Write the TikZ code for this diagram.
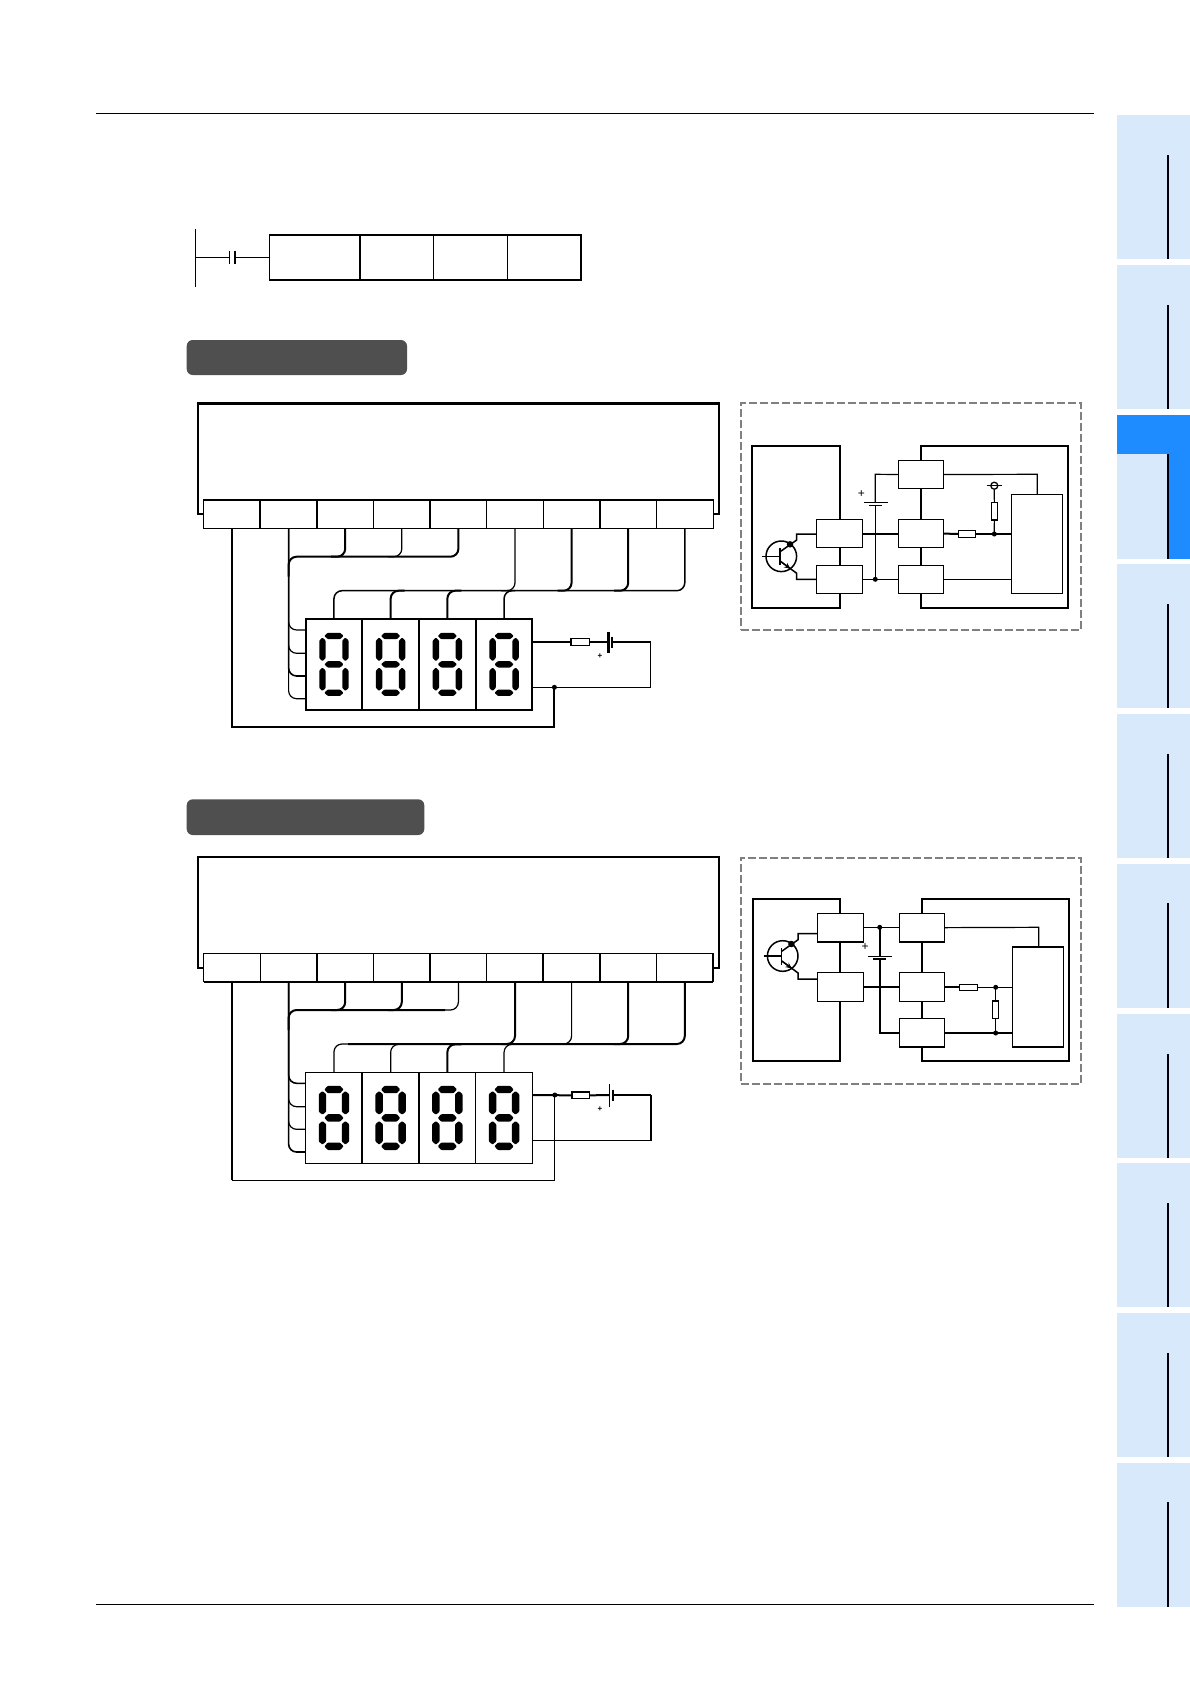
\documentclass[tikz,border=0pt]{standalone}
\usepackage{fontspec}
\setmainfont{Liberation Sans}
\usetikzlibrary{arrows.meta}
\definecolor{tabl}{HTML}{D7E9FB}
\definecolor{tabd}{HTML}{1E8BFF}
\definecolor{pill}{HTML}{4F4F4F}
\definecolor{dashg}{HTML}{808080}
\tikzset{
  bxs/.style={inner sep=0pt,outer sep=0pt},
  cell/.style={draw,fill=white,line width=1.2pt},
  tbox/.style={draw,fill=white,line width=1.4pt},
  wn/.style={line width=1.2pt},
  wb/.style={line width=2pt},
  rw/.style={rounded corners=8pt},
  segf/.style={fill=black,rounded corners=0.8pt},
  dotn/.style={circle,fill=black,inner sep=0pt,outer sep=0pt,minimum size=5pt},
  frame/.style={draw=dashg,line width=2pt,dash pattern=on 8pt off 3pt},
  house/.style={draw,line width=2.2pt},
  plus/.style={inner sep=0pt,outer sep=0pt,font=\fontsize{8}{8}\selectfont\bfseries},
  plusb/.style={inner sep=0pt,outer sep=0pt,font=\fontsize{12}{12}\selectfont},
}
% [options]{name}{x1}{y1}{x2}{y2}
\newcommand{\bx}[6][]{%
  \pgfmathsetmacro\bw{#5-#3}\pgfmathsetmacro\bh{#6-#4}%
  \pgfmathsetmacro\bcx{(#3+#5)/2}\pgfmathsetmacro\bcy{(#4+#6)/2}%
  \node[bxs,minimum width=\bw pt,minimum height=\bh pt,#1] (#2) at (\bcx,\bcy) {};}
% terminal strip {prefix}{ytop}{ybot}
\newcommand{\Strip}[3]{%
  \foreach \i in {1,...,9}{%
    \pgfmathsetmacro\xa{203.7+56.6*(\i-1)}\pgfmathsetmacro\xb{\xa+56.6}%
    \bx[cell]{#1\i}{\xa}{#2}{\xb}{#3}}}
% digit boxes {prefix}{ytop}{ybot}
\newcommand{\Digits}[3]{%
  \foreach \i in {1,...,4}{%
    \pgfmathsetmacro\xa{305.6+56.7*(\i-1)}\pgfmathsetmacro\xb{\xa+56.7}%
    \bx[cell]{#1\i}{\xa}{#2}{\xb}{#3}}}
% seven segments {node}{half thickness}
\newcommand{\Seven}[2]{%
  \foreach \yy in {-28.4,0,28.4}{%
    \fill[segf,shift={(#1.center)},yshift=-\yy pt]
      (-9.6,0) -- (-6.2,-#2) -- (6.2,-#2) -- (9.6,0) -- (6.2,#2) -- (-6.2,#2) -- cycle;}
  \foreach \xx in {-11.5,11.5}{\foreach \ya/\yb in {-26.8/-3.2,3.2/26.6}{%
    \pgfmathsetmacro\yc{\ya+3}\pgfmathsetmacro\yd{\yb-3}%
    \fill[segf,shift={(#1.center)},xshift=\xx pt]
      (0,\ya) -- (#2,\yc) -- (#2,\yd) -- (0,\yb) -- (-#2,\yd) -- (-#2,\yc) -- cycle;}}}
% transistor {prefix}{cx}{cy}{L1 node}{L2 node}
\newcommand{\Trans}[5]{%
  \begin{scope}[shift={(#2,#3)}]
    \node[circle,draw,line width=1.5pt,inner sep=0pt,minimum size=30.6pt] (#1c) at (0,0) {};
    \coordinate (#1b) at (-19,0);
    \coordinate (#1bb) at (-1.3,0);
    \coordinate (#1ct) at (15.4,-22.3);
    \coordinate (#1et) at (15.4,23);
    \draw[line width=1.5pt] (#1b) -- (#1bb);
    \draw[line width=1.8pt] (-1.3,-8) -- (-1.3,8.7);
    \draw[line width=1.5pt] (-1.3,-4.5) -- (15.4,-16.3) -- (#1ct) -- (#4.west|-#1ct) ;
    \draw[line width=1.5pt] (-1.3,4.7) -- (15.4,17) -- (#1et) -- (#5.west|-#1et);
    \draw[line width=1.2pt,-{Stealth[length=6pt,width=5.5pt]}] (0,5.6) -- (9,12.4);
    \node[dotn,minimum size=6.5pt] (#1d) at (8.7,-12) {};
  \end{scope}}
\begin{document}
\begin{tikzpicture}[x=1pt,y=-1pt]
\useasboundingbox (0,0) rectangle (1190,1684);
\fill[white] (0,0) rectangle (1190,1684);

% page rules
\draw[line width=1.1pt] (96,113.5) -- (1094,113.5);
\draw[line width=1pt] (96,1604) -- (1094,1604);

% side tabs
\foreach \t/\l in {115/155,265/305,415/454,564/604,714/754,864/903,1014/1054,1163/1203,1313/1353,1463/1502}{%
  \fill[tabl] (1116.7,\t) rectangle (1190,\t+144);
  \ifnum\t=415
    \fill[tabd] (1116.7,\t) rectangle (1190,\l);
    \fill[tabd] (1168,\l) rectangle (1190,\t+144);
  \fi
  \draw[line width=1.8pt,black!95!blue] (1168,\l) -- (1168,\t+144);
}

% ladder rung
\coordinate (lbt) at (195.3,229);
\coordinate (lbb) at (195.3,286.7);
\coordinate (lbm) at (195.3,257.5);
\draw[line width=1.1pt] (lbt) -- (lbb);
\bx[draw,line width=1.3pt,fill=white]{ins1}{269.3}{235}{360}{280}
\bx[draw,line width=1.3pt,fill=white]{ins2}{360}{235}{433.3}{280}
\bx[draw,line width=1.3pt,fill=white]{ins3}{433.3}{235}{507.3}{280}
\bx[draw,line width=1.3pt,fill=white]{ins4}{507.3}{235}{581.3}{280}
\draw[line width=2pt] (ins1.north west) -- (ins4.north east) -- (ins4.south east) -- (ins1.south west);
\draw[line width=2.2pt] (ins1.north east) -- (ins1.south east);
\coordinate (cta) at (229.3,257.5);
\coordinate (ctb) at (235,257.5);
\draw[line width=1.2pt] (lbm) -- (cta);
\draw[line width=1.2pt] (ctb) -- (ins1.west);
\draw[line width=1.2pt] (229.3,251) -- (229.3,264);
\draw[line width=2.2pt] (235,251) -- (235,264);

% section bars
\bx[fill=pill,rounded corners=6pt]{barA}{186.7}{340}{407}{375}
\bx[fill=pill,rounded corners=6pt]{barB}{186.7}{799.3}{424.3}{835}

%%%%%%%%%% BLOCK 1 %%%%%%%%%%
\bx[draw,line width=2pt]{plcA}{198.1}{403.3}{718.5}{514}
\draw[line width=2.6pt] (plcA.north west) -- (plcA.north east);
\Strip{a}{500}{528.4}
\draw[wb] (a1.north west) -- (a9.north east);
\draw[wb] (a1.north east) -- (a1.south east);
\draw[wb] (a4.north east) -- (a4.south east);
\draw[line width=1.5pt] (a6.north east) -- (a6.south east);
\Digits{da}{618.7}{710}
\draw[wb] (da1.north west) -- (da4.north east) -- (da4.south east) -- (da1.south west) -- cycle;
\draw[wb] (da1.north east) -- (da1.south east);
\draw[wb] (da3.north east) -- (da3.south east);
\foreach \n in {da1,da2,da3,da4}{\Seven{\n}{3.2}}

% common wire
\coordinate (aGnd) at (a1.south|-0,726.7);
\node[dotn] (aDot) at (554.4,687.3) {};
\draw[wb] (a1.south) -- (aGnd) -- (aDot.center|-aGnd) -- (aDot.center);
% group 1
\coordinate (ab) at (288.6,556.7);
\draw[wb,rw] (a5.south) |- (ab) -- ++(0,20);
\draw[wb,rw] (a3.south) |- ++(-14,28.3);
\draw[wn,rw] (a4.south) |- ++(-14,28.3);
\coordinate (ap1) at (305.6,630);
\coordinate (ap2) at (305.6,653.3);
\coordinate (ap3) at (305.6,676);
\coordinate (ap4) at (305.6,698.7);
\draw[wn,rw] (a2.south) |- (ap4);
\draw[wn,rw] (a2.south) |- (ap1);
\draw[wn,rw] (a2.south) |- (ap2);
\draw[line width=1.6pt,rw] (a2.south) |- (ap3);
% group 2
\coordinate (au) at (684.8,590.7);
\draw[line width=1.5pt,rw] (da1.north) |- (au) -- (a9.south);
\draw[wb,rw] (da2.north) |- ++(14,-28);
\draw[wb,rw] (da3.north) |- ++(14,-28);
\draw[line width=1.5pt,rw] (da4.north) |- ++(11,-28);
\draw[wn,rw] (a6.south) |- ++(-14,62.3);
\draw[wb,rw] (a7.south) |- ++(-14,62.3);
\draw[wb,rw] (a8.south) |- ++(-14,62.3);
% supply
\coordinate (apu) at (532.2,642);
\coordinate (apc) at (650.7,642);
\coordinate (apd) at (650.7,687.3);
\coordinate (apl) at (532.2,687.3);
\bx[draw,line width=1.5pt,fill=white]{afuse}{571}{638.7}{589.6}{645.3}
\coordinate (ab1) at (608.5,642);
\coordinate (ab2) at (611.9,642);
\draw[wb] (apu) -- (afuse.west);
\draw[wb] (afuse.east) -- (ab1);
\draw[wb] (ab2) -- (apc);
\draw[wn] (apc) -- (apd) -- (apl);
\draw[line width=2.2pt] (608.5,631.7) -- (608.5,652.7);
\draw[line width=1.4pt] (611.9,636.5) -- (611.9,647.5);
\node[plus] (aplus) at (600,656) {+};

%%%%%%%%%% BLOCK 2 %%%%%%%%%%
\bx[draw,line width=2pt]{plcB}{198.1}{856.7}{719.4}{968.3}
\Strip{b}{953.3}{981.6}
\draw[wb] (b4.north east) -- (b4.south east);
\draw[wb] (b6.north east) -- (b6.south east);
\draw[wb] (b9.north east) -- (b9.south east);
\draw[wb] (b1.south west) -- (b9.south east);
\Digits{db}{1072.3}{1163.5}
\draw[wb] (db1.north east) -- (db1.south east);
\draw[wb] (db2.north east) -- (db2.south east);
\draw[line width=1.6pt] (db1.north west) -- (db4.north east) -- (db4.south east) -- (db1.south west) -- cycle;
\foreach \n in {db1,db2,db3,db4}{\Seven{\n}{3.7}}

\coordinate (bGnd) at (b1.south|-0,1180.3);
\node[dotn] (bDot) at (554.8,1095) {};
\draw[wn] (bDot.center) -- (bDot.center|-bGnd) -- (bGnd);
\draw[wb] (bGnd) -- (b1.south);
% group 1
\coordinate (bb) at (288.6,1010);
\coordinate (bbe) at (445,1010);
\draw[wb,rw] (bbe) -- (bb) -- ++(0,20);
\draw[wn,rw] (b5.south) |- ++(-14,28.4);
\draw[wb,rw] (b3.south) |- ++(-14,28.4);
\draw[wb,rw] (b4.south) |- ++(-14,28.4);
\coordinate (bp1) at (305.6,1083.3);
\coordinate (bp2) at (305.6,1106.7);
\coordinate (bp3) at (305.6,1129.3);
\coordinate (bp4) at (305.6,1152);
\draw[line width=1.6pt,rw] (b2.south) |- (bp4);
\draw[line width=1.6pt,rw] (b2.south) |- (bp1);
\draw[wn,rw] (b2.south) |- (bp2);
\draw[wn,rw] (b2.south) |- (bp3);
% group 2
\coordinate (bu) at (684.8,1044);
\coordinate (bus) at (347.7,1044);
\draw[wb,rw] (bus) -- (bu) -- (b9.south);
\draw[wn,rw] (db1.north) |- (bus);
\draw[wn,rw] (db2.north) |- ++(14,-28);
\draw[wb,rw] (db3.north) |- ++(14,-28);
\draw[wn,rw] (db4.north) |- ++(11,-28);
\draw[wb,rw] (b6.south) |- ++(-14,62.4);
\draw[wn,rw] (b7.south) |- ++(-14,62.4);
\draw[wb,rw] (b8.south) |- ++(-14,62.4);
% supply
\coordinate (bpu) at (532.6,1095);
\coordinate (bpc) at (651,1095);
\coordinate (bpd) at (651,1140.3);
\coordinate (bpl) at (532.6,1140.3);
\bx[draw,line width=1.3pt,fill=white]{bfuse}{571.9}{1092}{589.6}{1098.7}
\coordinate (bb1) at (609.3,1095);
\coordinate (bb2) at (612.6,1095);
\draw[wb] (bpu) -- (bfuse.west);
\draw[wb] (bfuse.east) -- (bb1);
\draw[wb] (bb2) -- (bpc);
\draw[wn] (bpc) -- (bpd) -- (bpl);
\draw[line width=1.3pt] (609.3,1084.3) -- (609.3,1106.7);
\draw[line width=2.2pt] (612.6,1089.5) -- (612.6,1100.5);
\node[plus] (bplus) at (600,1109.3) {+};

%%%%%%%%%% INSET 1 %%%%%%%%%%
\bx[frame]{frA}{740.7}{403.3}{1081}{630}
\bx[house]{hLa}{752}{446}{840}{608.3}
\bx[house]{hRa}{921}{446}{1068.3}{608.3}
\bx[tbox]{La1}{816.3}{519.7}{862.3}{547.7}
\bx[tbox]{La2}{816.3}{565.3}{862.3}{593.3}
\bx[tbox]{Ra0}{898.3}{460.3}{943.3}{488.7}
\bx[tbox]{Ra1}{898.3}{519.7}{943.3}{547.7}
\bx[tbox]{Ra2}{898.3}{565.3}{943.3}{593.3}
\bx[tbox,line width=1.2pt]{Ia}{1011.3}{494.3}{1062.7}{593.3}
\node[dotn] (Jaa) at (875.3,579.3) {};
\node[dotn] (Jab) at (994.3,534) {};
\draw[wb] (La1.east) -- (Ra1.west);
\draw[wn] (La2.east) -- (Ra2.west);
\draw[wn] (Ra2.east) -- (Ia.west|-Ra2.east);
\coordinate (Ca0) at (875.3,474.3);
\coordinate (Cap1) at (875.3,502.3);
\coordinate (Cap2) at (875.3,505.3);
\draw[wn] (Ra0.west) -- (Ca0) -- (Cap1);
\draw[wn] (Cap2) -- (Jaa.center);
\draw[line width=1.2pt] (864,502.3) -- (887.7,502.3);
\draw[line width=1.2pt] (869,505.3) -- (881.7,505.3);
\node[plusb] (aP) at (861.3,494) {+};
\coordinate (Ca1) at (1037.3,474.3);
\draw[wn] (Ra0.east) -- (Ca1) -- (Ca1|-Ia.north);
\bx[draw,line width=1.5pt,fill=white]{Rah}{958.3}{530.3}{975.7}{537.3}
\draw[wb] (Ra1.east) -- (Rah.west);
\draw[wb] (Rah.east) -- (Ia.west|-Rah.east);
\bx[draw,line width=1.3pt,fill=white]{Rav}{991.2}{502.3}{997.5}{520}
\draw[wn] (Jab.center) -- (Rav.south);
\node[circle,draw,line width=1.3pt,inner sep=0pt,minimum size=7pt,fill=white] (Tpa) at (994.3,485.7) {};
\draw[wn] (Rav.north) -- (Tpa.south);
\draw[wn] (987,485.7) -- (1001.7,485.7);
\Trans{Qa}{781.3}{556.3}{La1}{La2}

%%%%%%%%%% INSET 2 %%%%%%%%%%
\bx[frame]{frB}{740.7}{857.7}{1081}{1083.7}
\bx[house]{hLb}{752.7}{899}{840.3}{1061}
\bx[house]{hRb}{922}{899}{1069.3}{1061}
\bx[tbox]{Lb1}{817.3}{913.3}{863.3}{942}
\bx[tbox]{Lb2}{817.3}{972.7}{863.3}{1001.3}
\bx[tbox]{Rb1}{899.3}{913.3}{944.7}{942}
\bx[tbox]{Rb2}{899.3}{972.7}{944.7}{1001.3}
\bx[tbox]{Rb3}{899.3}{1018.3}{944.7}{1047}
\bx[tbox,line width=1.2pt]{Ib}{1012.3}{947}{1063.7}{1047}
\node[dotn] (Jba) at (879.7,927.3) {};
\node[dotn] (Jbb) at (995.7,987.3) {};
\node[dotn] (Jbc) at (995.7,1033) {};
\draw[wn] (Lb1.east) -- (Rb1.west);
\draw[wn] (Lb2.east) -- (Rb2.west);
\coordinate (Cbp1) at (879.7,956.3);
\coordinate (Cbp2) at (879.7,959);
\coordinate (Cbc) at (879.7,1033);
\draw[wb] (Jba.center) -- (Cbp1);
\draw[wb] (Cbp2) -- (Cbc) -- (Rb3.west|-Cbc);
\draw[line width=1.2pt] (868,956.3) -- (892,956.3);
\draw[line width=2.4pt] (873,959) -- (886,959);
\node[plusb] (bP) at (865,947.3) {+};
\coordinate (Cb1) at (1038.7,927.3);
\draw[wn] (Rb1.east) -- (Cb1) -- (Cb1|-Ib.north);
\bx[draw,line width=1.5pt,fill=white]{Rbh}{959.7}{984.3}{977.7}{990.7}
\draw[wn] (Rb2.east) -- (Rbh.west|-Rb2.east);
\draw[wn] (Rbh.east) -- (Ib.west|-Rbh.east);
\draw[wb] (Rb3.east|-Jbc) -- (Ib.west|-Jbc);
\bx[draw,line width=1.4pt,fill=white]{Rbv}{992.7}{1001}{998.7}{1018.7}
\draw[wn] (Jbb.center) -- (Rbv.north);
\draw[wn] (Rbv.south) -- (Jbc.center);
\Trans{Qb}{782.7}{956}{Lb1}{Lb2}
\end{tikzpicture}
\end{document}
